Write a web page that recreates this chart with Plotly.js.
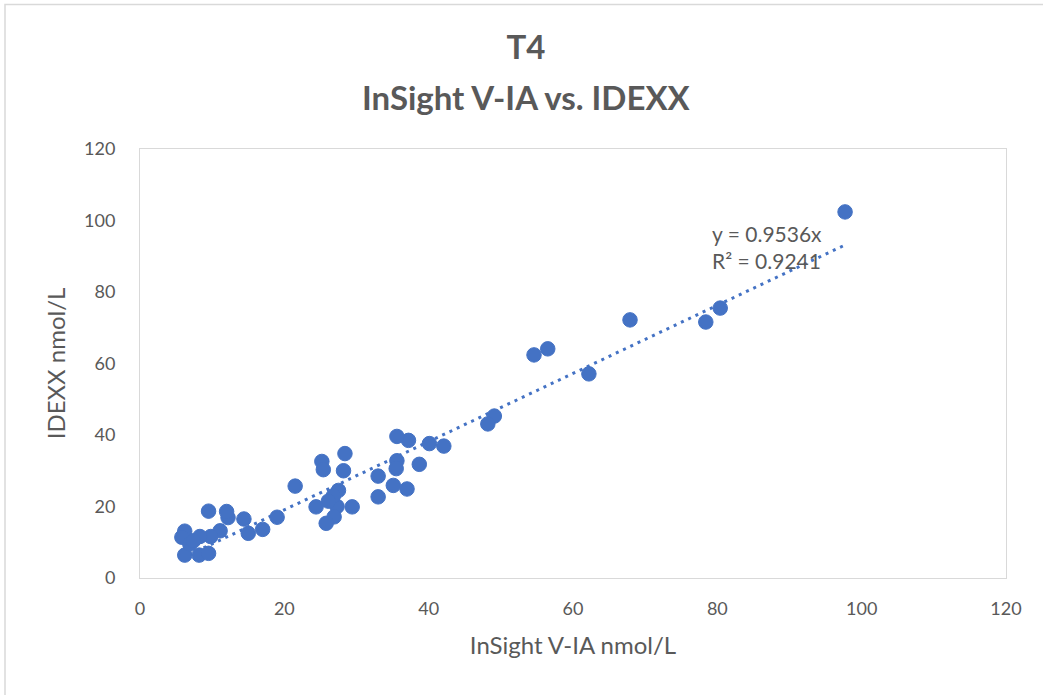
<!DOCTYPE html>
<html>
<head>
<meta charset="utf-8">
<script src="https://cdn.plot.ly/plotly-3.0.1.min.js"></script>
<style>
  html, body { margin: 0; padding: 0; background: #ffffff; }
  #chart { width: 1043px; height: 695px; }
</style>
</head>
<body>
<div id="chart"></div>
<script>
// InSight V-IA (x) vs IDEXX (y), nmol/L
const insightVals = [97.7, 80.4, 78.4, 67.9, 62.2, 56.5, 54.6, 49.1, 48.2, 42.1,
                     40.1, 37.2, 35.6, 38.7, 35.6, 35.5, 35.1, 37.0, 33.0, 33.0,
                     28.4, 28.2, 25.2, 25.4, 29.4, 27.3, 27.5, 26.8, 26.1, 26.9,
                     25.8, 24.4, 21.5, 19.0, 17.0, 15.0, 14.4, 12.2, 12.0, 11.1,
                     9.5, 9.8, 8.3, 6.2, 5.8, 6.2, 8.2, 9.5, 6.9, 7.4];
const idexxVals   = [102.4, 75.5, 71.6, 72.2, 57.1, 64.1, 62.4, 45.3, 43.1, 36.9,
                     37.6, 38.5, 39.6, 31.8, 32.8, 30.6, 25.9, 24.9, 28.5, 22.7,
                     34.8, 30.0, 32.6, 30.3, 19.9, 20.0, 24.5, 23.0, 21.5, 17.1,
                     15.3, 19.9, 25.7, 17.0, 13.6, 12.5, 16.5, 16.9, 18.6, 13.2,
                     18.7, 11.6, 11.6, 13.1, 11.4, 6.4, 6.4, 6.9, 9.5, 10.4];
const trendSlope = 0.9536;
const rSquared = 0.9241;
const tickVals = [0, 20, 40, 60, 80, 100, 120];
const titleLine1 = 'T4';
const titleLine2 = 'InSight V-IA vs. IDEXX';
const xTitle = 'InSight V-IA nmol/L';
const yTitle = 'IDEXX nmol/L';

const xMin = Math.min(...insightVals);
const xMax = Math.max(...insightVals);
const trendX = [xMin, xMax];
const trendY = trendX.map(v => v * trendSlope);

const blue = '#4472C4';
const gray = '#595959';
const fontFam = 'Lato, "Open Sans", sans-serif';

const traces = [
  {
    x: trendX, y: trendY, type: 'scatter', mode: 'lines',
    line: { color: blue, width: 3, dash: '3px,5px' },
    hoverinfo: 'skip', showlegend: false
  },
  {
    x: insightVals, y: idexxVals, type: 'scatter', mode: 'markers',
    marker: { color: blue, size: 14.5, line: { color: blue, width: 1 } },
    showlegend: false
  }
];

const W = 1043, H = 695, L = 140, R = 37, T = 149, B = 117;
const pw = W - L - R, ph = H - T - B;
const px2paperX = p => (p - L) / pw;
const px2paperY = p => (H - B - p) / ph;
const titleCenterPx = 526;

const layout = {
  width: W, height: H,
  margin: { l: L, r: R, t: T, b: B, pad: 0 },
  paper_bgcolor: '#ffffff', plot_bgcolor: '#ffffff',
  font: { family: fontFam, color: gray },
  title: {
    text: '<b>' + titleLine1 + '</b>',
    font: { family: fontFam, size: 33, color: gray },
    x: titleCenterPx / W, xref: 'container', xanchor: 'center',
    y: 1 - 47 / H, yref: 'container', yanchor: 'middle'
  },
  xaxis: {
    range: [0, 120], tickvals: tickVals, ticktext: tickVals.map(String),
    showgrid: false, zeroline: false,
    showline: true, mirror: true, linecolor: '#d9d9d9', linewidth: 1,
    ticks: '', ticklabelstandoff: 14,
    tickfont: { family: fontFam, size: 18, color: gray },
    title: { text: xTitle, font: { family: fontFam, size: 24, color: gray }, standoff: 19 }
  },
  yaxis: {
    range: [0, 120], tickvals: tickVals, ticktext: tickVals.map(String),
    showgrid: false, zeroline: false,
    showline: true, mirror: true, linecolor: '#d9d9d9', linewidth: 1,
    ticks: '', ticklabelstandoff: 20,
    tickfont: { family: fontFam, size: 18, color: gray },
    title: { text: yTitle, font: { family: fontFam, size: 24, color: gray }, standoff: 11 }
  },
  annotations: [
    { x: px2paperX(titleCenterPx), y: px2paperY(97), xref: 'paper', yref: 'paper',
      xanchor: 'center', yanchor: 'middle',
      text: '<b>' + titleLine2 + '</b>', showarrow: false,
      font: { family: fontFam, size: 33, color: gray } },
    { x: 79, y: 96.5, xref: 'x', yref: 'y', xanchor: 'left', yanchor: 'middle',
      text: 'y = ' + trendSlope + 'x', showarrow: false,
      font: { family: fontFam, size: 21, color: gray } },
    { x: 79, y: 88.9, xref: 'x', yref: 'y', xanchor: 'left', yanchor: 'middle',
      text: 'R² = ' + rSquared, showarrow: false,
      font: { family: fontFam, size: 21, color: gray } }
  ],
  shapes: [
    { type: 'rect', xref: 'paper', yref: 'paper', layer: 'below',
      x0: px2paperX(5), x1: px2paperX(W + 20), y0: px2paperY(H + 20), y1: px2paperY(4.5),
      line: { color: '#d9d9d9', width: 1.5 }, fillcolor: 'rgba(0,0,0,0)' }
  ]
};

Plotly.newPlot('chart', traces, layout, { staticPlot: true, displayModeBar: false });
</script>
</body>
</html>
